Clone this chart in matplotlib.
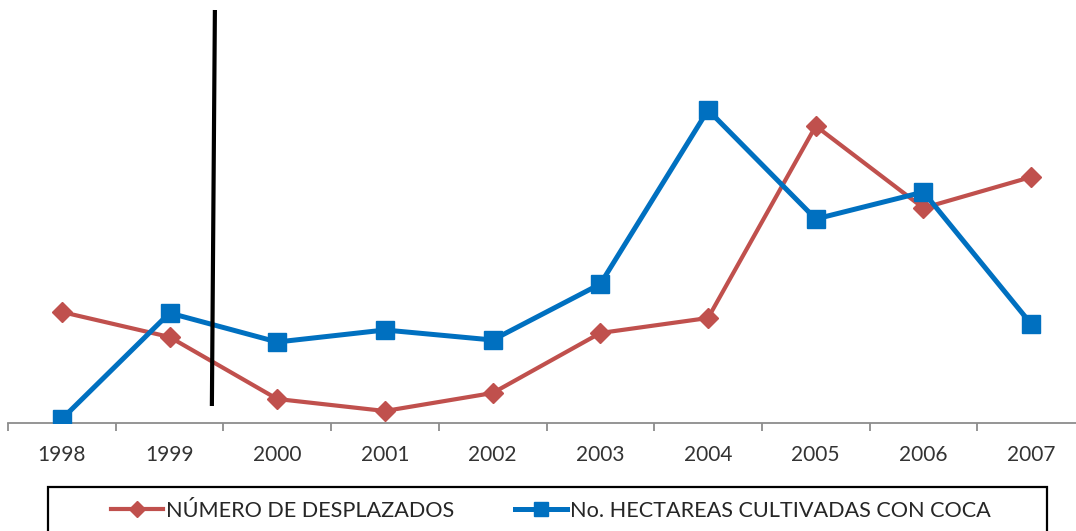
import matplotlib
matplotlib.use("Agg")
import matplotlib.pyplot as plt
from matplotlib.patches import Rectangle

years = ["1998", "1999", "2000", "2001", "2002", "2003", "2004", "2005", "2006", "2007"]
desplazados = [111, 86, 24, 12, 30, 90, 105, 297, 215, 246]
hectareas = [4, 110, 81, 93, 83, 139, 313, 204, 231, 99]
label_red = "NÚMERO DE DESPLAZADOS"
label_blue = "No. HECTAREAS CULTIVADAS CON COCA"

# annotation line (data coords)
vline_x = [1.421, 1.393]
vline_y = [413, 17]

plt.rcParams['font.family'] = ['Lato', 'DejaVu Sans']

W, H = 1076, 531
fig = plt.figure(figsize=(W / 100, H / 100), dpi=100)
ax = fig.add_axes([8 / W, 108 / H, (1085 - 8) / W, 423 / H])

x = list(range(len(years)))
ax.plot(x, desplazados, color="#C0504D", lw=3.0, marker="D", markersize=10,
        label=label_red, zorder=3)
ax.plot(x, hectareas, color="#0070C0", lw=3.6, marker="s", markersize=12.5,
        label=label_blue, zorder=4)
ax.plot(vline_x, vline_y, color="black", lw=3.0, zorder=5, solid_capstyle="butt")

ax.set_xlim(-0.5, len(years) - 0.5)
ax.set_ylim(0, 423)
for s in ["top", "right", "left"]:
    ax.spines[s].set_visible(False)
ax.spines["bottom"].set_color("#8C8C8C")
ax.spines["bottom"].set_linewidth(1.3)
ax.set_yticks([])
ax.set_xticks(x)
ax.set_xticklabels(years, fontsize=15, color="#333333")
ax.tick_params(axis="x", which="major", length=0, pad=16)
ax.set_xticks([i - 0.5 for i in range(len(years) + 1)], minor=True)
ax.tick_params(axis="x", which="minor", length=6, width=1.3, color="#8C8C8C")

leg = fig.legend(loc="center", bbox_to_anchor=(551 / W, 1 - 511 / H), ncol=2,
                 frameon=False, fontsize=15.6, handlelength=2.4, columnspacing=2.8,
                 handletextpad=0.15, labelcolor="#262626", markerscale=0.85)
fig.patches.append(Rectangle((48 / W, -0.05), (1047 - 48) / W, 0.05 + (531 - 487) / H,
                             transform=fig.transFigure, fill=False,
                             edgecolor="black", lw=1.6))

fig.savefig("out.png", dpi=100)
